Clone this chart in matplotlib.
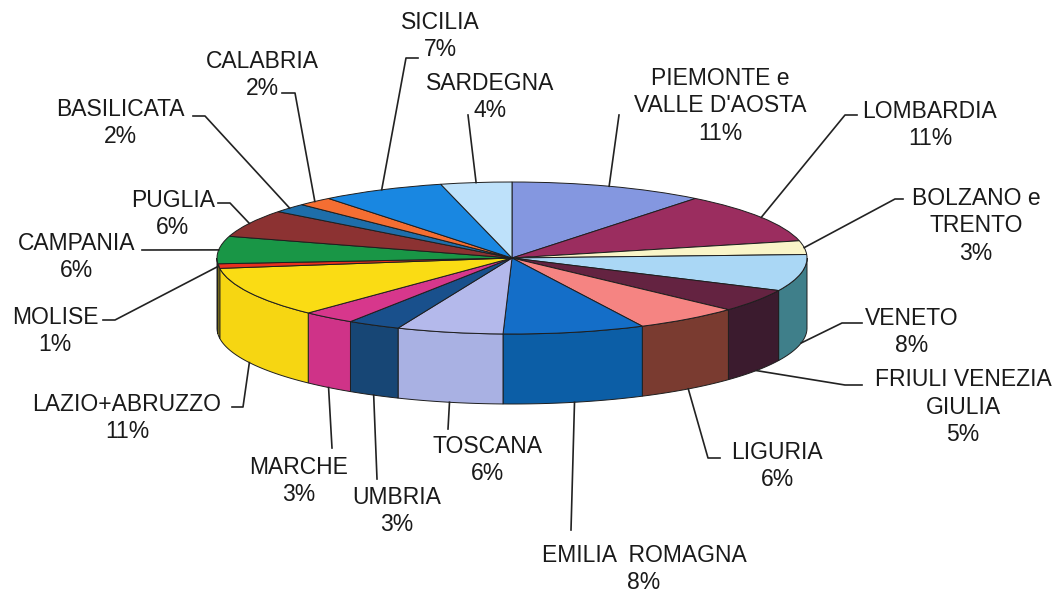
import numpy as np
import matplotlib
matplotlib.use("Agg")
import matplotlib.pyplot as plt
from matplotlib.transforms import Affine2D

plt.rcParams['font.family'] = ['Liberation Sans', 'DejaVu Sans']

regions = ["PIEMONTE e\nVALLE D'AOSTA", "LOMBARDIA", "BOLZANO e\nTRENTO", "VENETO",
           "FRIULI VENEZIA\nGIULIA", "LIGURIA", "EMILIA  ROMAGNA", "TOSCANA",
           "UMBRIA", "MARCHE", "LAZIO+ABRUZZO", "MOLISE", "CAMPANIA", "PUGLIA",
           "BASILICATA", "CALABRIA", "SICILIA", "SARDEGNA"]
percent = [11, 11, 3, 8, 5, 6, 8, 6, 3, 3, 11, 1, 6, 6, 2, 2, 7, 4]

top_colors = ['#8497e0', '#9b2d5f', '#faf5c8', '#aad7f5', '#642341', '#f58482',
              '#146ec8', '#b4b9eb', '#19508c', '#d7378c', '#fadc14', '#e8301e',
              '#199646', '#8c3232', '#1e6eaa', '#f56e32', '#1987e1', '#bee1fa']
side_colors = ['#6070b8', '#7a2048', '#d8d3a0', '#3f7f8a', '#3b1b2e', '#7a3b30',
               '#0c5ea6', '#a9b1e3', '#174675', '#cf3388', '#f6d612', '#e0c810',
               '#e0c810', '#6e2626', '#175a8c', '#d05a28', '#1470c0', '#98c0e0']

# layout (pixel positions in the 1055x594 picture)
CX, CY, RX = 512, 258, 295
RY = 76 / RX
DEPTH = 70 / RX
label_pos = [(720, 106), (930, 125), (976, 226), (912, 332), (963, 407), (777, 466),
             (644, 569), (488, 460), (397, 511), (299, 481), (127, 418), (55, 331),
             (77, 257), (173, 214), (120, 123), (262, 75), (440, 36), (490, 97)]
leader_pts = [[(619, 115)], [(857, 115), (845, 115)], [(903, 199), (895, 199)],
              [(862, 323), (842, 323)], [(862, 385), (845, 385)],
              [(720, 458), (708, 458)], [(571, 530)], [(448, 429)], [(377, 479)],
              [(332, 448)], [(232, 407), (243, 407)], [(103, 320), (115, 320)],
              [(142, 250)], [(218, 203), (230, 203)], [(193, 116), (205, 116)],
              [(282, 93), (295, 93)], [(418, 58), (406, 58)], [(468, 115)]]
anchor_side = ['top', 'top', 'top', 'bot', 'bot', 'bot', 'bot', 'bot', 'bot', 'bot',
               'bot', 'top', 'top', 'top', 'top', 'top', 'top', 'top']


def px(x, y):
    return (x - CX) / RX, (CY - y) / RX


fig = plt.figure(figsize=(10.55, 5.94), dpi=100)
ax = fig.add_axes([0, 0, 1, 1])

wedges, _ = ax.pie(percent, colors=top_colors, startangle=90, counterclock=False,
                   wedgeprops=dict(edgecolor='#1e1e1e', linewidth=0.7))
squash = Affine2D().scale(1, RY) + ax.transData
for w in wedges:
    w.set_transform(squash)
    w.set_zorder(3)

# side walls of the front half
for w, sc in zip(wedges, side_colors):
    for k in (-360, 0, 360):
        a = max(w.theta1 + k, 180)
        b = min(w.theta2 + k, 360)
        if a < b:
            t = np.radians(np.linspace(a, b, 80))
            xs = np.concatenate([np.cos(t), np.cos(t[::-1])])
            ys = np.concatenate([RY * np.sin(t), RY * np.sin(t[::-1]) - DEPTH])
            ax.fill(xs, ys, facecolor=sc, edgecolor='#1e1e1e', linewidth=0.7, zorder=2)

# labels and leader lines
for w, name, v, pos, pts, side in zip(wedges, regions, percent, label_pos,
                                      leader_pts, anchor_side):
    mid = np.radians((w.theta1 + w.theta2) / 2)
    ax_x, ax_y = np.cos(mid), RY * np.sin(mid)
    if side == 'bot':
        ax_y -= DEPTH
    line = [px(*p) for p in pts] + [(ax_x, ax_y)]
    ax.plot([p[0] for p in line], [p[1] for p in line], color='#222222',
            linewidth=1.2, zorder=4)
    tx, ty = px(*pos)
    ax.text(tx, ty, f"{name}\n{v}%", ha='center', va='center', multialignment='center',
            fontsize=16.5, color='#1a1a1a', linespacing=1.25, zorder=5)

ax.set_xlim(-CX / RX, (1055 - CX) / RX)
ax.set_ylim(-(594 - CY) / RX, CY / RX)
ax.set_aspect('auto')
ax.axis('off')

fig.savefig("out.png", dpi=100, facecolor='white')
